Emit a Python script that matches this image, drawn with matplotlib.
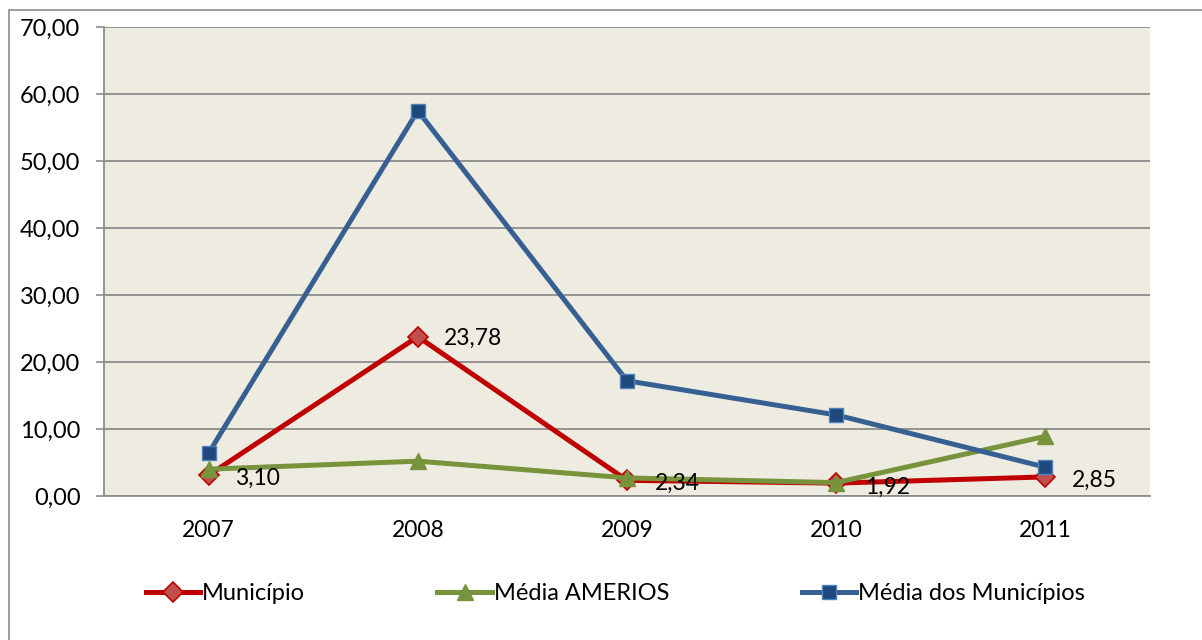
import matplotlib
matplotlib.use("Agg")
import matplotlib.pyplot as plt
from matplotlib.patches import Rectangle

years = ["2007", "2008", "2009", "2010", "2011"]
municipio = [3.10, 23.78, 2.34, 1.92, 2.85]
media_amerios = [4.0, 5.2, 2.7, 2.0, 8.9]
media_municipios = [6.4, 57.5, 17.2, 12.1, 4.3]
municipio_labels = ["3,10", "23,78", "2,34", "1,92", "2,85"]
yticks = [0, 10, 20, 30, 40, 50, 60, 70]

plt.rcParams['font.family'] = ['Lato', 'DejaVu Sans']

W, H = 1202, 640
fig = plt.figure(figsize=(W / 100, H / 100), dpi=100)
fig.patch.set_facecolor('white')

# outer chart border (left and top visible)
fig.add_artist(Rectangle((9 / W, -0.05), 1.2, (640 - 10) / H + 0.05, transform=fig.transFigure,
                         fill=False, edgecolor='#8c8c8c', linewidth=1.2))

left, right, top, bottom = 104, 1150, 27, 496
ax = fig.add_axes([left / W, 1 - bottom / H, (right - left) / W, (bottom - top) / H])
ax.set_facecolor('#EEECE1')

x = list(range(len(years)))
ax.plot(x, municipio, color='#C00000', lw=3.6, marker='D', markersize=10.5,
        markerfacecolor='#C0504D', markeredgecolor='#C00000', markeredgewidth=1.2,
        label='Município', zorder=3)
ax.plot(x, media_amerios, color='#77933C', lw=3.6, marker='^', markersize=11.5,
        markerfacecolor='#77933C', markeredgecolor='#77933C',
        label='Média AMERIOS', zorder=4)
ax.plot(x, media_municipios, color='#376092', lw=3.6, marker='s', markersize=10.5,
        markerfacecolor='#1F497D', markeredgecolor='#4F81BD', markeredgewidth=1.0,
        label='Média dos Municípios', zorder=5)

offsets = [(19, -2.5), (19, -1.5), (20, -2.5), (21, -3), (19, -2.5)]
for xi, v, lab, off in zip(x, municipio, municipio_labels, offsets):
    ax.annotate(lab, (xi, v), xytext=off, textcoords='offset points', fontsize=16.5,
                ha='left', va='center', color='black', zorder=6)

ax.set_xlim(-0.5, len(years) - 0.5)
ax.set_ylim(0, 70)
ax.set_yticks(yticks)
ax.set_yticklabels([f"{t:.2f}".replace('.', ',') for t in yticks], fontsize=17)
ax.set_xticks(x)
ax.set_xticklabels(years, fontsize=16.5)
ax.tick_params(axis='x', length=0, pad=17)
ax.tick_params(axis='y', length=6, color='#8c8c8c', pad=11, width=1.2)
ax.yaxis.grid(True, color='#8c8c8c', lw=1.3)
ax.set_axisbelow(True)
for s in ['top', 'right']:
    ax.spines[s].set_visible(False)
for s in ['left', 'bottom']:
    ax.spines[s].set_color('#8c8c8c')
    ax.spines[s].set_linewidth(1.3)

leg = fig.legend(loc='center', bbox_to_anchor=(0.512, 1 - 594 / H), ncol=3, frameon=False,
                 fontsize=17, handlelength=2.3, columnspacing=5.6, handletextpad=0.1)

fig.savefig('out.png', dpi=100, facecolor='white')
